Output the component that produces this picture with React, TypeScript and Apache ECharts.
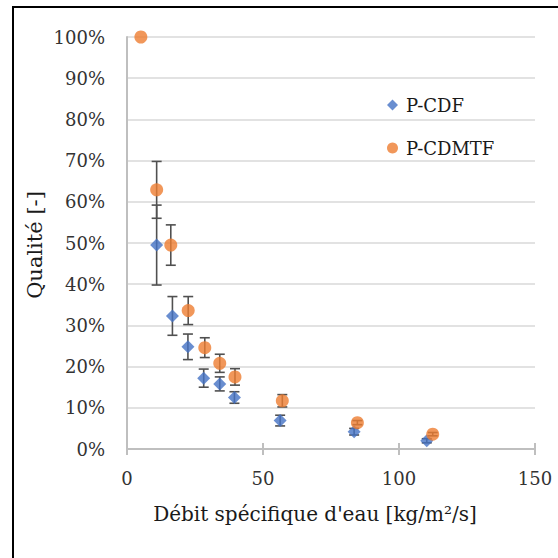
import React, { useEffect, useRef } from "react";
import * as echarts from "echarts";

const xTicks = [0, 50, 100, 150];
const seriesNames = ["P-CDF", "P-CDMTF"];
const cdfX = [10.9, 16.7, 22.4, 28.2, 34.1, 39.5, 56.3, 83.5, 110.2];
const cdfY = [0.495, 0.323, 0.248, 0.172, 0.158, 0.125, 0.069, 0.042, 0.02];
const cdfErr = [0.097, 0.047, 0.031, 0.022, 0.017, 0.014, 0.013, 0.008, 0.005];
const cdmtfX = [5.1, 10.9, 16.1, 22.5, 28.6, 34.1, 39.7, 57.1, 84.7, 112.4];
const cdmtfY = [1.0, 0.629, 0.495, 0.336, 0.246, 0.208, 0.175, 0.117, 0.064, 0.036];
const cdmtfErr = [0, 0.069, 0.049, 0.034, 0.024, 0.022, 0.02, 0.015, 0.005, 0.004];

const FONT = "DejaVu Serif";

function errSeries(xs: number[], ys: number[], es: number[]) {
  return {
    type: "custom",
    xAxisIndex: 0,
    yAxisIndex: 0,
    z: 1,
    silent: true,
    data: xs.map((x, i) => [x, ys[i], es[i]]),
    renderItem: (_p: any, api: any) => {
      const x = api.value(0);
      const y = api.value(1);
      const e = api.value(2);
      if (!e) return { type: "group", children: [] };
      const t = api.coord([x, y + e]);
      const b = api.coord([x, y - e]);
      const cap = 5;
      const st = { stroke: "#505050", lineWidth: 1.6 };
      return {
        type: "group",
        children: [
          { type: "line", shape: { x1: t[0], y1: t[1], x2: b[0], y2: b[1] }, style: st },
          { type: "line", shape: { x1: t[0] - cap, y1: t[1], x2: t[0] + cap, y2: t[1] }, style: st },
          { type: "line", shape: { x1: b[0] - cap, y1: b[1], x2: b[0] + cap, y2: b[1] }, style: st },
        ],
      };
    },
  };
}

export default function App() {
  const ref = useRef<HTMLDivElement>(null);
  useEffect(() => {
    if (!ref.current) return;
    const chart = echarts.init(ref.current, undefined, { renderer: "svg" });
    chart.setOption({
      animation: false,
      backgroundColor: "#ffffff",
      grid: { left: 127, right: 23, top: 37, bottom: 109, containLabel: false },
      xAxis: [
        {
          type: "value",
          min: xTicks[0],
          max: xTicks[xTicks.length - 1],
          interval: 50,
          splitLine: { show: false },
          axisLine: { show: true, onZero: false, lineStyle: { color: "#bfbfbf", width: 2 } },
          axisTick: { show: true, inside: false, length: 6, lineStyle: { color: "#bfbfbf", width: 2 } },
          axisLabel: { margin: 20, color: "#333333", fontFamily: FONT, fontSize: 18 },
        },
        {
          type: "value",
          position: "bottom",
          min: xTicks[0],
          max: xTicks[xTicks.length - 1],
          interval: 50,
          splitLine: { show: false },
          axisLine: { show: false },
          axisTick: { show: true, inside: true, length: 6, lineStyle: { color: "#bfbfbf", width: 2 } },
          axisLabel: { show: false },
        },
      ],
      yAxis: {
        type: "value",
        min: 0,
        max: 1,
        interval: 0.1,
        axisLine: { show: true, lineStyle: { color: "#bfbfbf", width: 2 } },
        axisTick: { show: false },
        splitLine: { show: true, lineStyle: { color: "#d9d9d9", width: 1.5 } },
        axisLabel: {
          margin: 22,
          color: "#333333",
          fontFamily: FONT,
          fontSize: 18,
          formatter: (v: number) => Math.round(v * 100) + "%",
        },
      },
      legend: {
        orient: "vertical",
        left: 382,
        top: 90,
        itemWidth: 11,
        itemHeight: 11,
        itemGap: 23,
        data: [
          { name: seriesNames[0], icon: "diamond" },
          { name: seriesNames[1], icon: "circle" },
        ],
        textStyle: { fontFamily: FONT, fontSize: 18, color: "#1a1a1a", lineHeight: 20, padding: [0, 0, 0, 3] },
      },
      series: [
        errSeries(cdfX, cdfY, cdfErr),
        errSeries(cdmtfX, cdmtfY, cdmtfErr),
        {
          name: seriesNames[0],
          type: "scatter",
          symbol: "diamond",
          symbolSize: 13,
          z: 3,
          itemStyle: { color: "#4472c4" },
          data: cdfX.map((x, i) => [x, cdfY[i]]),
        },
        {
          name: seriesNames[1],
          type: "scatter",
          symbol: "circle",
          symbolSize: 13,
          z: 4,
          itemStyle: { color: "#ed7d31" },
          data: cdmtfX.map((x, i) => [x, cdmtfY[i]]),
        },
      ],
      graphic: [
        { type: "line", shape: { x1: 13, y1: 7, x2: 558, y2: 7 }, style: { stroke: "#000", lineWidth: 2 } },
        { type: "line", shape: { x1: 13, y1: 6, x2: 13, y2: 558 }, style: { stroke: "#000", lineWidth: 2 } },
        {
          type: "text",
          x: 315,
          y: 514,
          style: {
            text: "Débit spécifique d'eau [kg/m²/s]",
            fontFamily: FONT,
            fontSize: 20,
            fill: "#1a1a1a",
            align: "center",
            verticalAlign: "middle",
          },
        },
        {
          type: "text",
          x: 35,
          y: 245,
          rotation: Math.PI / 2,
          style: {
            text: "Qualité [-]",
            fontFamily: FONT,
            fontSize: 21,
            fill: "#1a1a1a",
            align: "center",
            verticalAlign: "middle",
          },
        },
      ],
    });
    return () => chart.dispose();
  }, []);
  return (
    <div
      ref={ref}
      style={{ position: "fixed", left: 0, top: 0, width: 558, height: 558 }}
    />
  );
}
